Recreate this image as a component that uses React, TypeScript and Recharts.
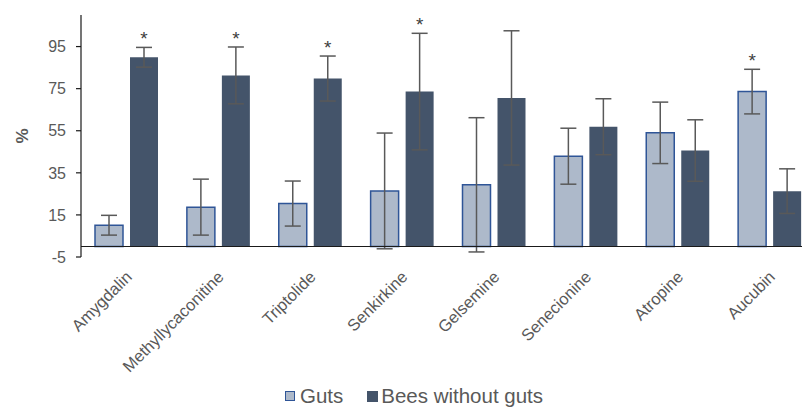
import React from 'react';
import { BarChart, Bar, XAxis, YAxis, ErrorBar, ReferenceLine, Legend, LabelList } from 'recharts';

const categories = ['Amygdalin', 'Methyllycaconitine', 'Triptolide', 'Senkirkine', 'Gelsemine', 'Senecionine', 'Atropine', 'Aucubin'];
const guts = [10.1, 18.7, 20.4, 26.4, 29.3, 42.9, 54.0, 73.6];
const gutsErr = [4.7, 13.3, 10.7, 27.5, 31.9, 13.3, 14.6, 10.6];
const bees = [89.9, 81.3, 79.8, 73.6, 70.6, 56.9, 45.6, 26.3];
const beesErr = [4.7, 13.5, 10.7, 27.7, 31.9, 13.3, 14.6, 10.6];
const gutsSig = [false, false, false, false, false, false, false, true];
const beesSig = [true, true, true, true, false, false, false, false];
const yTicks = [-5, 15, 35, 55, 75, 95];

const data = categories.map((name, i) => ({
  name,
  guts: guts[i],
  gutsErr: gutsErr[i],
  bees: bees[i],
  beesErr: beesErr[i],
}));

const FONT = '"Liberation Sans", Arial, sans-serif';
const TEXT = '#595959';
const GUTS_FILL = '#adb9ca';
const GUTS_STROKE = '#2f5597';
const BEES_FILL = '#44546a';

const makeStar = (vals: number[], errs: number[], sig: boolean[]) => (props: any) => {
  const { x, y, width, height, index } = props;
  if (!sig[index]) return null;
  const v = vals[index];
  const ppu = Number(height) / v;
  const errTop = Number(y) - errs[index] * ppu;
  return (
    <text x={Number(x) + Number(width) / 2} y={errTop - 2} textAnchor="middle" fontSize={19} fontFamily={FONT} fill="#404040">
      *
    </text>
  );
};

const XTick = (props: any) => {
  const { x, y, payload } = props;
  return (
    <g transform={`translate(${x + 6},${y + 13})`}>
      <text x={0} y={0} textAnchor="end" transform="rotate(-45)" fontSize={16.5} fontFamily={FONT} fill={TEXT}>
        {payload.value}
      </text>
    </g>
  );
};

const LegendContent = () => (
  <div style={{ display: 'flex', justifyContent: 'center', alignItems: 'center', fontFamily: FONT, fontSize: 20.5, color: TEXT, paddingLeft: 12, marginTop: 6 }}>
    <span style={{ display: 'inline-block', width: 8, height: 8, background: GUTS_FILL, border: `1.5px solid ${GUTS_STROKE}`, marginRight: 5 }} />
    <span style={{ marginRight: 24 }}>Guts</span>
    <span style={{ display: 'inline-block', width: 11, height: 11, background: BEES_FILL, marginRight: 3 }} />
    <span>Bees without guts</span>
  </div>
);

export default function App() {
  return (
    <div style={{ position: 'absolute', left: 0, top: 0, width: 802, height: 408, overflow: 'hidden', background: '#fff' }}>
      <BarChart
        width={816}
        height={408}
        data={data}
        margin={{ top: 15, right: 0, left: 0, bottom: 0 }}
        barSize={28}
        barGap={7}
      >
        <XAxis dataKey="name" axisLine={false} tickLine={false} interval={0} height={121} tick={<XTick />} />
        <YAxis
          width={81}
          domain={[-5, 110]}
          ticks={yTicks}
          interval={0}
          allowDataOverflow
          axisLine={{ stroke: '#1a1a1a', strokeWidth: 1.2 }}
          tickLine={{ stroke: '#1a1a1a', strokeWidth: 1.2 }}
          tickSize={5}
          tickMargin={10}
          tick={{ fontSize: 16, fontFamily: FONT, fill: TEXT }}
          label={{
            content: (p: any) => {
              const vb = p.viewBox || { x: 0, y: 15, width: 81, height: 242 };
              const cx = vb.x + 22;
              const cy = vb.y + vb.height / 2;
              return (
                <text x={cx} y={cy} transform={`rotate(-90, ${cx}, ${cy})`} textAnchor="middle" dominantBaseline="central" fontSize={17} fontWeight="bold" fontFamily={FONT} fill={TEXT}>
                  %
                </text>
              );
            },
          }}
        />
        <Legend verticalAlign="bottom" height={30} content={<LegendContent />} />
        <Bar dataKey="guts" name="Guts" fill={GUTS_FILL} stroke={GUTS_STROKE} strokeWidth={1.5} isAnimationActive={false}>
          <ErrorBar dataKey="gutsErr" width={8} strokeWidth={1.5} stroke="#595959" direction="y" />
          <LabelList dataKey="guts" content={makeStar(guts, gutsErr, gutsSig)} />
        </Bar>
        <Bar dataKey="bees" name="Bees without guts" fill={BEES_FILL} isAnimationActive={false}>
          <ErrorBar dataKey="beesErr" width={8} strokeWidth={1.5} stroke="#595959" direction="y" />
          <LabelList dataKey="bees" content={makeStar(bees, beesErr, beesSig)} />
        </Bar>
        <ReferenceLine y={0} stroke="#1a1a1a" strokeWidth={1.2} ifOverflow="extendDomain" />
      </BarChart>
    </div>
  );
}
